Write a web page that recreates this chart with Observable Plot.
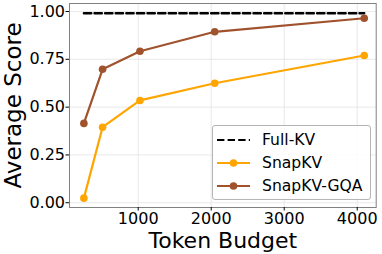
<!DOCTYPE html>
<html>
<head>
<meta charset="utf-8">
<script src="https://cdn.jsdelivr.net/npm/d3@7"></script>
<script src="https://cdn.jsdelivr.net/npm/@observablehq/plot@0.6"></script>
<style>
  html, body { margin: 0; padding: 0; background: #fff; }
  #wrap { position: relative; width: 382px; height: 254px; font-family: "DejaVu Sans", sans-serif; }
  #legend { position: absolute; left: 212px; top: 125px; width: 157px; height: 73px;
    border: 1px solid #b5b5b5; border-radius: 3px; background: rgba(255,255,255,0.85);
    box-sizing: content-box; }
  .row { position: absolute; left: 0; height: 23px; display: flex; align-items: center; }
  .row svg { margin-left: 4px; }
  .row span { margin-left: 12px; font-size: 15.6px; color: #000; white-space: nowrap; }
</style>
</head>
<body>
<div id="wrap"></div>
<script>
const budgets = [256, 512, 1024, 2048, 4096];
const snapkv = [0.024, 0.395, 0.535, 0.625, 0.770];
const snapkvGqa = [0.415, 0.698, 0.792, 0.894, 0.965];
const fullKv = 0.991;
const xTicks = [1000, 2000, 3000, 4000];
const yTicks = [0, 0.25, 0.5, 0.75, 1.0];
const seriesNames = ["Full-KV", "SnapKV", "SnapKV-GQA"];
const seriesColors = ["#000000", "#FFA500", "#A0522D"];

const rowsSnap = budgets.map((b, i) => ({x: b, y: snapkv[i]}));
const rowsGqa = budgets.map((b, i) => ({x: b, y: snapkvGqa[i]}));
const rowsFull = budgets.map(b => ({x: b, y: fullKv}));

const plot = Plot.plot({
  width: 382,
  height: 254,
  marginLeft: 69,
  marginRight: 6.3,
  marginTop: 3,
  marginBottom: 47,
  style: {fontFamily: "DejaVu Sans, sans-serif", background: "#fff", overflow: "visible"},
  x: {domain: [59, 4260]},
  y: {domain: [-0.025, 1.042]},
  marks: [
    Plot.gridX(xTicks, {stroke: "#e3e3e3", strokeOpacity: 1, strokeWidth: 0.8}),
    Plot.gridY(yTicks, {stroke: "#e3e3e3", strokeOpacity: 1, strokeWidth: 0.8}),
    Plot.frame({stroke: "#808080", strokeWidth: 1}),
    Plot.axisX(xTicks, {tickFormat: d3.format("d"), tickSize: 3.5, tickPadding: 1.5, fontSize: 16, label: null, color: "#000"}),
    Plot.axisY(yTicks, {tickFormat: d3.format(".2f"), tickSize: 3.5, tickPadding: 1, fontSize: 16, label: null, color: "#000"}),
    Plot.text(["Token Budget"], {frameAnchor: "bottom", dy: 40, lineAnchor: "bottom", textAnchor: "middle", fontSize: 22, fill: "#000"}),
    Plot.text(["Average Score"], {frameAnchor: "left", dx: -56, rotate: -90, textAnchor: "middle", lineAnchor: "middle", fontSize: 23, fill: "#000"}),
    Plot.line(rowsFull, {x: "x", y: "y", stroke: seriesColors[0], strokeWidth: 2.4, strokeDasharray: "7.4,3.2"}),
    Plot.line(rowsSnap, {x: "x", y: "y", stroke: seriesColors[1], strokeWidth: 2.2}),
    Plot.dot(rowsSnap, {x: "x", y: "y", r: 3.8, fill: seriesColors[1], stroke: "none"}),
    Plot.line(rowsGqa, {x: "x", y: "y", stroke: seriesColors[2], strokeWidth: 2.2}),
    Plot.dot(rowsGqa, {x: "x", y: "y", r: 3.8, fill: seriesColors[2], stroke: "none"})
  ]
});

const wrap = document.getElementById("wrap");
wrap.appendChild(plot);

// legend
const legend = d3.select(wrap).append("div").attr("id", "legend");
seriesNames.forEach((name, i) => {
  const row = legend.append("div").attr("class", "row").style("top", (2.5 + i * 23) + "px");
  const svg = row.append("svg").attr("width", 33).attr("height", 12);
  svg.append("line").attr("x1", 0).attr("x2", 33).attr("y1", 6).attr("y2", 6)
    .attr("stroke", seriesColors[i]).attr("stroke-width", 2.2)
    .attr("stroke-dasharray", i === 0 ? "7.4,3.2" : null);
  if (i > 0) svg.append("circle").attr("cx", 16.5).attr("cy", 6).attr("r", 3.8).attr("fill", seriesColors[i]);
  row.append("span").text(name);
});
</script>
</body>
</html>
